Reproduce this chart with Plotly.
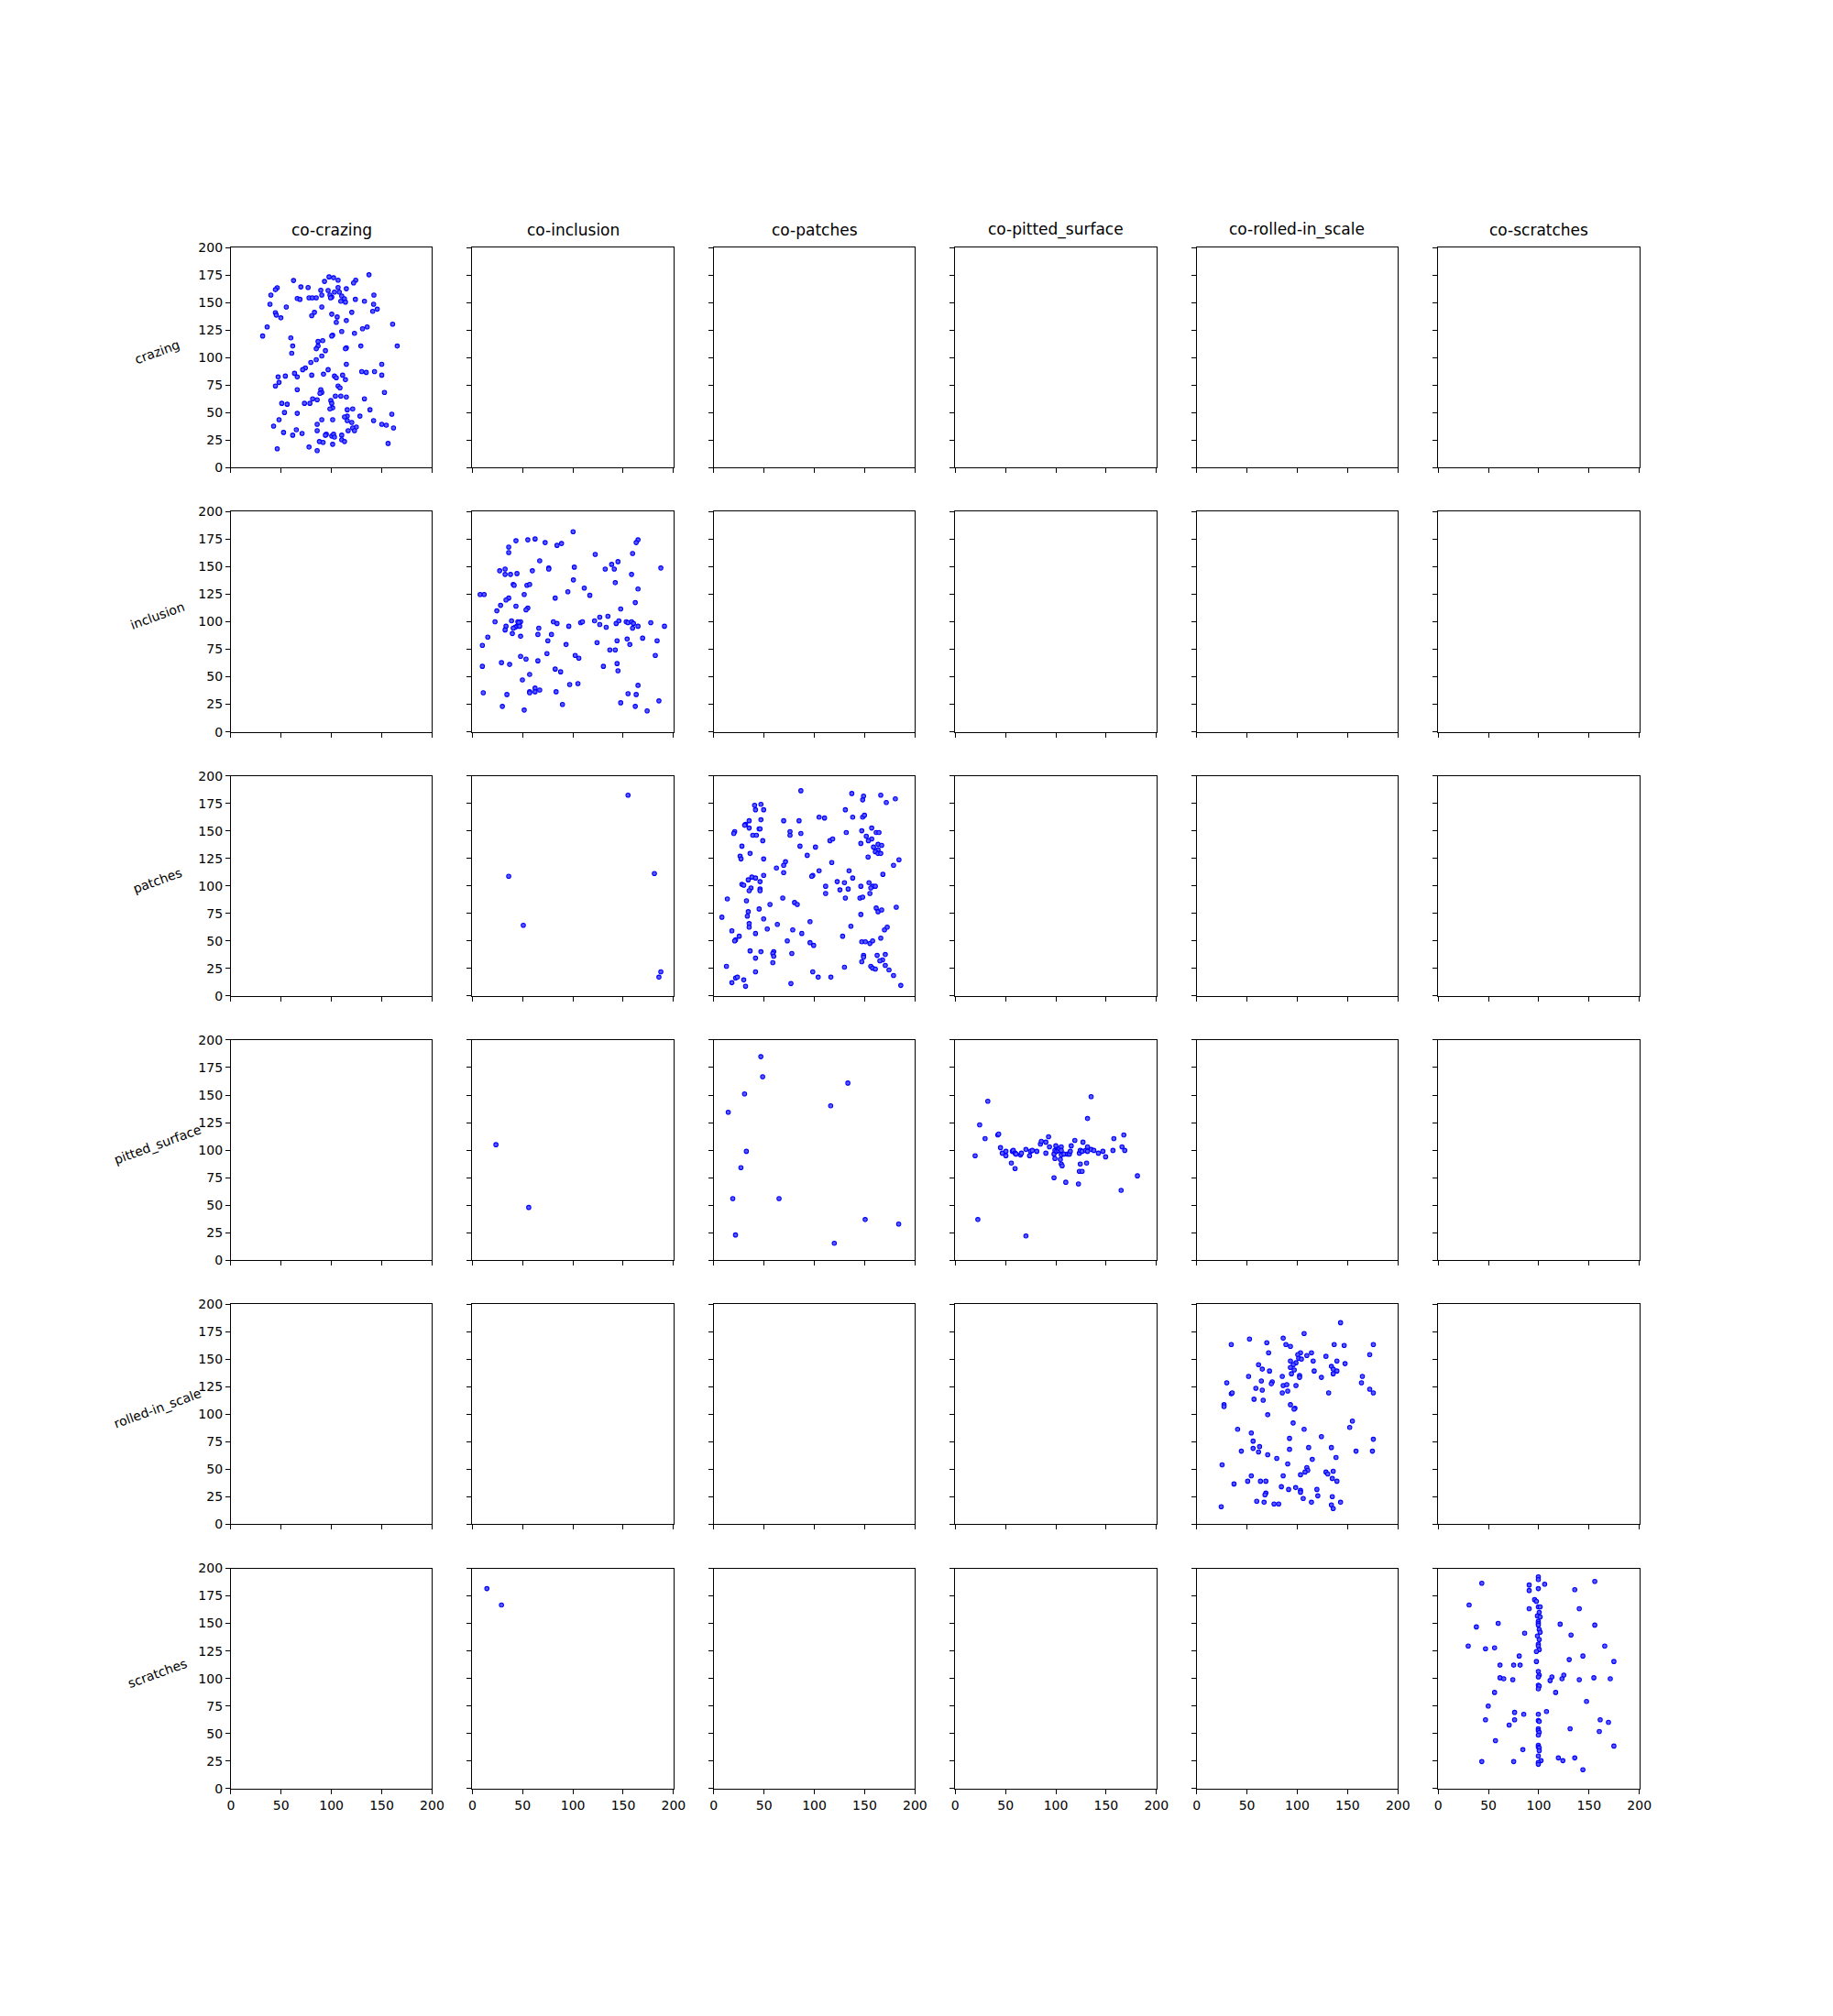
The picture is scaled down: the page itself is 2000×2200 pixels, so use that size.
import plotly.graph_objects as go

classes = ["crazing", "inclusion", "patches", "pitted_surface", "rolled-in_scale", "scratches"]
col_titles = ["co-" + c for c in classes]
x_ticks = [0, 50, 100, 150, 200]
y_ticks = [0, 25, 50, 75, 100, 125, 150, 175, 200]

# row crazing / col co-crazing
crazing_x = [137.3, 97.6, 102.1, 106.6, 62.3, 93.1, 124.1, 122.0, 106.6, 46.1, 44.3, 69.6, 76.8, 114.8, 89.4, 96.7, 103.0, 107.8,
             39.8, 90.4, 98.5, 100.3, 99.1, 110.2, 112.9, 142.2, 66.0, 68.7, 77.7, 81.0, 84.9, 109.3, 113.9, 123.8, 132.8, 38.9,
             141.9, 90.4, 55.1, 145.5, 141.0, 44.3, 45.2, 83.1, 80.4, 120.2, 100.3, 105.7, 49.7, 104.8, 114.8, 36.1, 135.5, 130.9,
             160.8, 31.6, 110.2, 122.9, 101.2, 100.3, 59.6, 91.3, 86.7, 61.5, 86.7, 84.9, 129.2, 165.4, 114.8, 113.9, 94.0, 60.5,
             90.4, 84.9, 79.5, 114.8, 150.0, 74.1, 71.4, 96.7, 63.3, 130.1, 134.6, 142.8, 92.1, 80.4, 111.1, 150.0, 47.0, 54.2,
             66.0, 103.0, 104.8, 113.9, 47.9, 44.3, 106.6, 108.5, 66.0, 89.4, 90.4, 88.6, 152.7, 103.9, 109.3, 114.8, 81.3, 85.8,
             132.8, 50.6, 56.0, 73.2, 78.6, 99.4, 100.3, 101.2, 98.5, 121.1, 115.7, 138.3, 53.3, 66.0, 128.3, 115.7, 113.0, 160.0,
             47.9, 90.4, 101.2, 115.7, 141.9, 42.5, 85.8, 150.0, 154.5, 161.7, 120.2, 124.7, 121.1, 122.9, 116.6, 65.1, 85.8, 52.4,
             70.8, 61.5, 94.9, 94.0, 100.3, 102.1, 103.0, 110.2, 110.2, 113.0, 88.0, 91.7, 101.2, 156.3, 77.7, 46.1, 85.8]
crazing_y = [175.2, 173.3, 172.5, 170.3, 170.0, 169.2, 170.3, 167.8, 163.6, 163.4, 161.7, 164.2, 163.6, 162.5, 161.2, 160.9, 159.5, 159.5,
             156.8, 156.8, 156.8, 154.8, 154.3, 155.9, 153.4, 156.8, 153.7, 152.9, 154.3, 154.3, 154.3, 151.2, 150.4, 152.9, 151.2, 148.5,
             148.5, 146.0, 146.0, 144.0, 142.0, 140.8, 138.6, 141.1, 138.0, 141.1, 139.4, 136.9, 136.1, 132.0, 133.6, 127.8, 127.8, 126.2,
             130.3, 119.6, 123.7, 122.0, 120.4, 119.6, 117.9, 115.4, 114.6, 110.5, 110.5, 108.0, 110.5, 110.5, 108.8, 108.0, 106.3, 103.9,
             101.4, 98.1, 95.6, 93.9, 93.9, 90.6, 89.0, 89.0, 85.7, 87.3, 86.5, 87.3, 84.9, 84.0, 84.0, 84.0, 82.4, 83.2,
             82.4, 83.2, 81.6, 79.9, 77.4, 74.1, 74.1, 72.5, 70.8, 70.8, 68.3, 67.5, 68.3, 65.0, 65.0, 64.2, 62.5, 61.7,
             62.5, 58.4, 57.6, 58.4, 58.4, 60.9, 58.4, 54.3, 53.4, 53.4, 52.6, 52.6, 50.1, 49.3, 46.8, 46.8, 46.0, 48.5,
             43.5, 43.5, 43.5, 42.7, 42.7, 37.7, 39.4, 39.4, 38.6, 36.1, 41.0, 36.9, 36.1, 33.6, 33.6, 34.4, 33.6, 32.0,
             31.1, 29.5, 30.3, 29.5, 28.7, 30.3, 27.8, 29.5, 25.3, 23.7, 23.7, 22.9, 21.2, 22.0, 18.7, 17.1, 15.4]

# row inclusion / col co-inclusion
inclusion_x = [100.2, 62.4, 55.2, 43.4, 72.4, 84.2, 88.7, 36.2, 36.2, 164.7, 162.9, 159.3, 122.2, 144.8, 138.5, 67.0, 27.2, 32.6,
               32.6, 38.0, 44.4, 59.7, 76.0, 76.0, 101.4, 132.1, 141.1, 158.3, 187.4, 100.5, 142.1, 40.7, 41.6, 54.3, 57.0, 111.3,
               164.7, 116.8, 7.8, 11.8, 51.6, 82.4, 36.2, 33.5, 95.0, 28.1, 43.4, 162.0, 55.2, 53.4, 24.4, 147.5, 126.7, 134.8,
               22.6, 39.0, 45.3, 48.0, 46.2, 44.4, 42.5, 47.1, 33.5, 32.6, 40.7, 39.8, 48.0, 66.1, 65.2, 80.6, 84.2, 95.9,
               107.7, 109.5, 121.5, 126.7, 133.1, 143.0, 145.7, 153.0, 154.8, 158.3, 160.2, 159.3, 164.7, 177.4, 191.0, 15.4, 10.0, 78.7,
               75.1, 93.2, 124.0, 143.9, 153.9, 156.6, 169.3, 183.7, 136.7, 142.1, 74.2, 48.0, 53.4, 65.2, 102.3, 105.9, 181.9, 10.0,
               29.0, 37.1, 143.9, 130.3, 144.8, 82.4, 87.8, 57.0, 49.8, 96.8, 105.0, 164.7, 10.9, 34.4, 57.0, 57.0, 62.4, 62.4,
               67.0, 83.3, 154.8, 162.9, 185.5, 29.9, 51.6, 89.6, 147.5, 162.0, 173.8]
inclusion_y = [181.8, 175.2, 174.4, 173.6, 171.9, 169.4, 171.1, 167.8, 162.8, 174.4, 171.9, 162.0, 161.2, 154.6, 152.1, 155.4, 146.3, 147.9,
               143.0, 143.0, 143.8, 146.3, 148.8, 147.9, 149.6, 147.9, 147.9, 143.0, 148.8, 138.0, 135.5, 133.9, 133.1, 133.1, 133.9, 130.6,
               129.8, 124.0, 124.8, 124.8, 124.8, 121.5, 121.5, 119.8, 127.3, 114.9, 114.1, 117.4, 112.4, 110.8, 109.9, 111.6, 104.1, 105.0,
               100.0, 100.8, 100.0, 100.0, 99.2, 95.9, 95.0, 95.9, 95.9, 92.6, 94.2, 89.3, 86.8, 94.2, 88.4, 100.0, 98.4, 95.9,
               99.2, 100.0, 100.8, 97.5, 95.0, 98.4, 100.8, 100.0, 99.2, 100.0, 98.4, 94.2, 95.9, 99.2, 95.9, 86.0, 78.5, 88.4,
               82.7, 79.3, 81.0, 82.7, 84.3, 79.3, 85.1, 82.7, 74.4, 74.4, 71.1, 68.6, 66.1, 64.5, 69.4, 66.9, 69.4, 59.5,
               62.8, 61.2, 62.0, 59.5, 55.4, 57.0, 54.5, 52.1, 47.1, 43.0, 43.8, 42.2, 35.5, 33.9, 36.4, 35.5, 39.7, 36.4,
               38.0, 36.4, 34.7, 33.9, 28.1, 23.1, 19.8, 24.8, 26.4, 23.1, 19.0]

# row patches / col co-inclusion
patches_inc_x = [154.8, 36.2, 181.0, 50.7, 187.4, 185.5]
patches_inc_y = [182.4, 108.8, 111.3, 64.2, 22.0, 17.1]

# row patches / col co-patches
patches_x = [86.6, 137.2, 148.9, 148.0, 166.0, 180.5, 171.5, 40.6, 46.9, 41.5, 49.6, 130.8, 35.2, 46.9, 69.5, 84.8, 104.7, 110.1,
             138.1, 148.0, 149.8, 31.6, 30.7, 35.2, 45.1, 46.0, 20.8, 19.9, 38.8, 42.4, 75.8, 75.8, 86.6, 131.7, 147.1, 157.0,
             151.6, 161.5, 164.2, 157.0, 153.7, 48.7, 115.5, 118.2, 146.2, 163.3, 166.9, 158.8, 163.3, 160.6, 163.3, 166.0, 28.0, 85.7,
             101.1, 36.1, 26.2, 27.1, 49.6, 92.9, 153.4, 184.1, 178.7, 71.3, 69.5, 62.3, 117.3, 69.5, 104.7, 134.5, 98.4, 97.4,
             138.1, 168.1, 49.6, 37.9, 41.5, 34.3, 46.0, 122.7, 129.9, 154.3, 28.0, 29.8, 111.2, 146.2, 158.0, 160.6, 156.1, 37.0,
             35.2, 46.0, 46.0, 125.4, 133.6, 111.2, 155.2, 13.5, 68.6, 130.8, 145.3, 148.0, 32.5, 80.3, 83.0, 55.9, 34.3, 45.1,
             161.5, 163.3, 166.9, 181.4, 8.1, 33.4, 49.6, 146.2, 95.7, 35.2, 35.2, 63.2, 53.2, 78.5, 136.3, 169.7, 172.4, 18.0,
             41.5, 87.5, 25.3, 21.7, 20.8, 73.1, 128.1, 166.0, 95.7, 99.3, 147.1, 150.7, 155.2, 157.9, 36.1, 46.9, 41.5, 59.6,
             58.7, 59.6, 77.6, 58.7, 148.9, 148.9, 162.4, 170.5, 167.8, 165.1, 147.1, 170.5, 156.1, 157.9, 160.6, 174.2, 178.7, 185.9,
             12.6, 41.5, 98.4, 129.9, 103.8, 116.4, 18.0, 21.7, 23.5, 29.8, 31.6, 76.7]
patches_y = [186.5, 184.0, 181.6, 178.2, 182.4, 179.1, 175.8, 173.3, 174.1, 169.2, 169.2, 169.2, 159.2, 160.1, 159.2, 159.2, 162.5, 161.7,
             162.5, 162.5, 164.2, 155.9, 155.1, 152.6, 151.8, 151.8, 149.3, 147.7, 146.0, 146.0, 149.3, 146.0, 147.7, 148.5, 150.1, 152.6,
             145.2, 148.5, 148.5, 142.7, 141.1, 141.1, 141.1, 142.7, 138.6, 137.8, 136.9, 135.3, 132.8, 131.1, 129.5, 129.5, 136.1, 136.1,
             135.3, 129.5, 127.0, 124.5, 124.5, 127.8, 126.2, 123.7, 118.7, 122.0, 118.7, 116.3, 121.2, 112.1, 113.8, 113.8, 109.6, 108.8,
             107.2, 110.5, 109.6, 108.0, 107.2, 105.5, 103.9, 103.9, 103.0, 103.0, 101.4, 100.6, 99.7, 99.7, 99.7, 99.7, 98.1, 98.1,
             95.6, 97.2, 95.6, 96.4, 97.2, 93.1, 93.1, 88.2, 89.0, 89.0, 89.0, 89.8, 86.5, 84.9, 83.2, 83.2, 76.6, 79.1,
             79.9, 76.6, 78.2, 80.7, 71.6, 72.5, 70.0, 74.1, 67.5, 65.8, 62.5, 65.0, 60.9, 60.1, 63.4, 60.1, 62.5, 59.2,
             56.8, 56.8, 54.3, 51.0, 50.1, 50.1, 54.3, 52.6, 48.5, 46.0, 49.3, 49.3, 47.7, 50.1, 41.0, 40.2, 34.4, 40.2,
             38.6, 36.1, 38.6, 30.3, 36.9, 35.3, 36.9, 37.7, 32.8, 32.0, 31.1, 27.8, 27.0, 25.3, 24.5, 23.7, 18.7, 9.6,
             27.0, 22.0, 22.0, 26.2, 17.1, 17.1, 12.1, 16.3, 17.1, 14.6, 8.8, 11.3]

# row pitted_surface / col co-inclusion
pitted_inc_x = [23.5, 56.1]
pitted_inc_y = [104.9, 47.9]

# row pitted_surface / col co-patches
pitted_pat_x = [46.8, 48.6, 133.3, 30.6, 14.4, 116.2, 32.4, 27.0, 18.9, 64.9, 150.5, 183.8, 21.6, 119.8]
pitted_pat_y = [184.9, 166.7, 160.9, 151.0, 134.4, 140.2, 98.9, 84.0, 55.9, 55.9, 36.9, 32.8, 22.9, 15.4]

# row pitted_surface / col co-pitted_surface
pitted_x = [32.4, 24.3, 135.1, 131.5, 29.7, 42.3, 43.2, 19.8, 45.0, 46.8, 50.4, 50.4, 56.8, 57.7, 59.5, 60.4, 64.9, 65.8,
            55.8, 59.5, 70.3, 73.9, 74.8, 76.6, 81.1, 84.7, 85.6, 90.1, 92.8, 93.7, 90.1, 98.2, 100.0, 99.1, 100.9, 102.7,
            103.6, 105.4, 105.4, 105.4, 99.1, 104.5, 105.4, 106.3, 98.2, 108.1, 111.7, 113.5, 114.4, 115.3, 118.9, 109.9, 122.5, 123.4,
            124.3, 126.1, 127.0, 124.3, 123.4, 126.1, 130.6, 129.7, 131.5, 131.5, 135.1, 137.8, 142.3, 146.8, 149.5, 156.8, 157.7, 165.8,
            167.6, 168.5, 164.9, 181.1, 22.5, 70.3]
pitted_y = [144.4, 122.9, 148.5, 128.7, 110.5, 113.8, 114.6, 94.8, 102.2, 97.2, 98.9, 94.8, 98.9, 99.7, 97.2, 96.4, 95.6, 97.2,
            88.2, 83.2, 100.6, 94.8, 98.9, 99.7, 98.9, 105.5, 108.0, 107.2, 112.1, 103.0, 97.2, 96.4, 103.9, 99.7, 98.9, 99.7,
            101.4, 103.0, 99.7, 95.6, 92.3, 91.5, 87.3, 85.7, 74.9, 96.4, 96.4, 96.4, 98.9, 103.9, 108.8, 70.8, 69.2, 97.2,
            99.7, 98.9, 107.2, 87.3, 80.7, 80.7, 88.2, 99.7, 103.0, 98.9, 100.6, 99.7, 97.2, 98.9, 93.9, 99.7, 110.5, 103.0,
            113.8, 99.7, 63.4, 76.6, 36.9, 22.0]

# row rolled-in_scale / col co-rolled-in_scale
rolled_x = [143.0, 106.8, 86.0, 52.5, 34.4, 69.7, 88.7, 93.2, 136.7, 146.6, 175.6, 172.0, 71.5, 103.2, 100.5, 109.5, 114.1, 128.5,
            101.4, 104.1, 93.2, 98.7, 96.0, 115.8, 139.4, 147.5, 61.5, 65.2, 93.2, 97.0, 72.4, 94.2, 116.8, 133.9, 135.7, 139.4,
            135.7, 102.3, 102.3, 124.0, 51.6, 85.1, 164.7, 163.8, 64.3, 75.1, 74.2, 29.9, 86.0, 89.6, 98.7, 58.8, 65.2, 90.5,
            85.1, 131.2, 172.0, 175.6, 34.4, 35.3, 57.0, 66.1, 27.2, 27.2, 93.2, 97.7, 96.8, 70.6, 95.9, 154.8, 152.1, 40.7,
            106.8, 54.3, 124.0, 56.1, 92.3, 175.6, 56.1, 62.5, 61.5, 92.3, 111.3, 133.9, 44.4, 158.4, 174.7, 70.6, 79.6, 114.9,
            138.5, 25.3, 90.5, 109.5, 110.4, 107.7, 103.2, 128.5, 130.3, 135.7, 86.0, 54.3, 50.7, 63.4, 68.8, 134.8, 139.4, 37.1,
            84.2, 91.4, 98.4, 103.2, 103.2, 119.5, 68.8, 67.9, 105.9, 120.4, 134.8, 59.7, 67.0, 76.9, 81.5, 114.1, 133.9, 135.7,
            143.0, 24.4]
rolled_y = [183.2, 173.3, 169.1, 168.3, 163.3, 165.0, 163.3, 161.7, 163.3, 162.5, 163.3, 154.2, 155.9, 155.9, 154.2, 153.4, 155.9, 152.6,
            150.9, 150.1, 148.4, 146.8, 145.1, 148.4, 148.4, 146.0, 145.1, 141.0, 142.6, 140.2, 139.3, 136.8, 139.3, 143.5, 141.0, 139.3,
            136.8, 135.2, 133.5, 133.5, 134.4, 134.4, 134.4, 128.6, 130.2, 129.4, 127.7, 128.6, 126.1, 126.9, 126.1, 123.6, 121.9, 121.1,
            119.5, 119.5, 122.8, 119.5, 118.6, 119.5, 113.7, 112.8, 108.7, 107.0, 108.7, 105.4, 104.6, 99.6, 92.1, 93.8, 88.0, 86.4,
            86.4, 83.0, 79.7, 75.6, 78.1, 77.3, 69.0, 70.6, 65.7, 68.1, 69.8, 69.8, 66.5, 66.5, 66.5, 63.2, 59.9, 59.0,
            60.7, 54.1, 54.9, 51.6, 49.1, 47.5, 45.0, 47.5, 45.8, 48.3, 44.1, 44.1, 39.2, 39.2, 39.2, 41.7, 39.2, 36.7,
            34.2, 31.7, 33.4, 30.9, 29.2, 31.7, 28.4, 26.8, 23.5, 25.9, 25.1, 21.0, 20.1, 18.5, 18.5, 20.1, 17.7, 14.3,
            20.1, 16.0]

# row scratches / col co-inclusion
scratches_inc_x = [14.5, 29.0]
scratches_inc_y = [181.6, 166.7]

# row scratches / col co-scratches
scratches_x = [99.6, 99.6, 43.4, 90.5, 105.9, 155.7, 90.5, 99.6, 135.8, 95.9, 97.7, 30.8, 99.6, 101.4, 90.5, 140.3, 100.5, 98.7,
               101.4, 99.6, 99.6, 99.6, 59.7, 121.3, 155.7, 38.0, 100.5, 101.4, 86.0, 98.7, 132.1, 100.5, 99.6, 99.6, 100.5, 97.7,
               29.9, 47.1, 56.1, 165.6, 80.6, 143.9, 130.3, 97.7, 174.7, 61.5, 75.1, 81.5, 99.6, 100.5, 99.6, 113.1, 124.9, 123.1,
               111.3, 140.3, 154.8, 171.1, 61.5, 65.2, 74.2, 99.6, 100.5, 99.6, 56.1, 116.8, 147.5, 49.8, 76.0, 85.1, 107.7, 99.6,
               47.1, 76.0, 99.6, 100.5, 161.1, 169.3, 70.6, 99.6, 99.6, 100.5, 99.6, 131.2, 160.2, 57.0, 99.6, 99.6, 100.5, 100.5,
               84.2, 174.7, 99.6, 119.5, 135.8, 124.0, 102.3, 99.6, 99.6, 43.4, 75.1, 143.9]
scratches_y = [192.3, 189.8, 186.5, 184.9, 185.7, 188.2, 179.9, 181.6, 180.7, 171.6, 170.0, 166.7, 165.0, 165.0, 163.4, 163.4, 160.1, 156.8,
               155.9, 151.8, 150.1, 148.5, 150.1, 149.3, 148.5, 146.8, 144.4, 141.9, 141.1, 138.6, 139.4, 135.3, 131.1, 129.5, 126.2, 124.5,
               129.5, 127.0, 127.8, 129.5, 120.4, 120.4, 117.1, 115.4, 115.4, 112.1, 112.1, 112.1, 106.3, 103.0, 101.4, 101.4, 103.0, 99.7,
               98.1, 98.9, 100.6, 99.7, 100.6, 99.7, 98.9, 93.9, 93.1, 90.6, 87.3, 87.3, 79.1, 74.9, 69.2, 67.5, 70.0, 67.5,
               62.5, 62.5, 61.7, 60.9, 62.5, 60.1, 57.6, 54.3, 52.6, 51.0, 48.5, 54.3, 51.8, 43.5, 39.4, 37.7, 36.9, 34.4,
               35.3, 38.6, 29.5, 27.8, 27.8, 25.3, 25.3, 23.7, 22.0, 24.5, 24.5, 17.1]

panels = [
    (0, 0, crazing_x, crazing_y),
    (1, 1, inclusion_x, inclusion_y),
    (2, 1, patches_inc_x, patches_inc_y),
    (2, 2, patches_x, patches_y),
    (3, 1, pitted_inc_x, pitted_inc_y),
    (3, 2, pitted_pat_x, pitted_pat_y),
    (3, 3, pitted_x, pitted_y),
    (4, 4, rolled_x, rolled_y),
    (5, 1, scratches_inc_x, scratches_inc_y),
    (5, 5, scratches_x, scratches_y),
]

W, H = 2000, 2200
n = 6
left, right, bottom, top = 0.125, 0.9, 0.11, 0.88
cw = (right - left) / (n + (n - 1) * 0.2)
ch = (top - bottom) / (n + (n - 1) * 0.2)

fig = go.Figure()
layout = {}
font = dict(family="DejaVu Sans", size=14, color="black")
annotations = []
for r in range(n):
    for c in range(n):
        k = r * n + c + 1
        x0 = left + c * cw * 1.2
        y1 = top - r * ch * 1.2
        sfx = "" if k == 1 else str(k)
        layout["xaxis" + sfx] = dict(
            domain=[x0, x0 + cw], range=[0, 200], anchor="y" + sfx,
            tickvals=x_ticks, ticktext=[str(t) for t in x_ticks] if r == n - 1 else [""] * len(x_ticks),
            ticks="outside", ticklen=5, tickwidth=1, tickcolor="black",
            showline=True, mirror=True, linecolor="black", linewidth=1,
            showgrid=False, zeroline=False, tickfont=font, fixedrange=True,
        )
        layout["yaxis" + sfx] = dict(
            domain=[y1 - ch, y1], range=[0, 200], anchor="x" + sfx,
            tickvals=y_ticks, ticktext=[str(t) for t in y_ticks] if c == 0 else [""] * len(y_ticks),
            ticks="outside", ticklen=5, tickwidth=1, tickcolor="black",
            showline=True, mirror=True, linecolor="black", linewidth=1,
            showgrid=False, zeroline=False, tickfont=font, fixedrange=True,
        )
        # empty trace so that every subplot frame is drawn
        fig.add_trace(go.Scatter(x=[None], y=[None], mode="markers", xaxis="x" + sfx, yaxis="y" + sfx,
                                 hoverinfo="skip", showlegend=False))
        if r == 0:
            annotations.append(dict(
                text=col_titles[c], x=x0 + cw / 2, y=top, xref="paper", yref="paper",
                xanchor="center", yanchor="bottom", yshift=7, showarrow=False,
                font=dict(family="DejaVu Sans", size=17, color="black")))
        if c == 0:
            annotations.append(dict(
                text=classes[r], x=169 / W, y=y1 - ch / 2, xref="paper", yref="paper",
                xanchor="center", yanchor="middle", yshift=6, textangle=-20, showarrow=False,
                font=font))

for r, c, xs, ys in panels:
    k = r * n + c + 1
    sfx = "" if k == 1 else str(k)
    fig.add_trace(go.Scatter(
        x=xs, y=ys, mode="markers", xaxis="x" + sfx, yaxis="y" + sfx,
        marker=dict(size=4.5, color="#5a5aff", line=dict(width=1.1, color="blue")),
        hoverinfo="skip", showlegend=False, cliponaxis=False))

fig.update_layout(**layout)
fig.update_layout(
    width=W, height=H, margin=dict(l=0, r=0, t=0, b=0),
    paper_bgcolor="white", plot_bgcolor="white", showlegend=False,
    annotations=annotations, font=font,
)
fig.write_html("out.html")
